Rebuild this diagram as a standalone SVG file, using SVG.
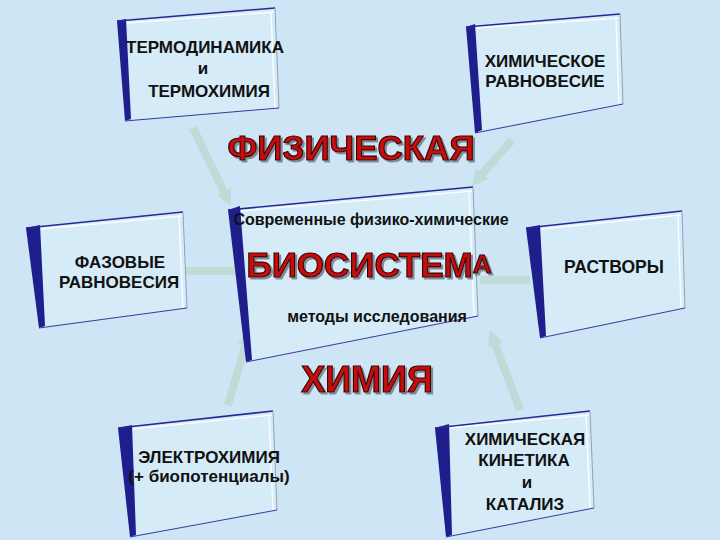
<svg xmlns="http://www.w3.org/2000/svg" width="720" height="540" viewBox="0 0 720 540">
<defs>
<style>
.bg{fill:#cde5f4}
.face{fill:#d5ebf8;stroke:none}
.strip{fill:#1e1e8c}
.top{stroke:#27279a;stroke-width:1.6;fill:none}
.hl{stroke:#ffffff;stroke-width:1.4;fill:none;opacity:0.9}
.side{stroke:#8fa3b8;stroke-width:1;fill:none}
.bot{stroke:#3a3aa0;stroke-width:1;fill:none}
.conn{stroke:#bcd9d0;stroke-width:8;fill:none;opacity:0.8}
.t{font-family:"Liberation Sans",Arial,sans-serif;font-weight:bold;fill:#111;text-anchor:middle}
.big{font-family:"Liberation Sans",Arial,sans-serif;font-weight:bold;fill:#c80f0f;stroke:#3a0000;stroke-width:1.2;text-anchor:middle;filter:url(#sh)}
</style>
<filter id="sh" x="-10%" y="-20%" width="130%" height="150%">
<feDropShadow dx="2" dy="2" stdDeviation="0.6" flood-color="#6b7580" flood-opacity="0.8"/>
</filter>
<marker id="ah" viewBox="0 0 10 10" refX="6" refY="5" markerWidth="2" markerHeight="2" orient="auto">
<path d="M0,0 L10,5 L0,10 z" fill="#bcd9d0"/>
</marker>
</defs>
<rect class="bg" x="0" y="0" width="720" height="540"/>

<g id="connectors">
<line class="conn" x1="193" y1="128" x2="228" y2="200" marker-end="url(#ah)"/>
<line class="conn" x1="512" y1="140" x2="476" y2="181" marker-end="url(#ah)"/>
<line class="conn" x1="185" y1="271" x2="236" y2="271"/>
<line class="conn" x1="530" y1="280" x2="480" y2="280"/>
<line class="conn" x1="228" y1="405" x2="248" y2="336" marker-end="url(#ah)"/>
<line class="conn" x1="520" y1="410" x2="492" y2="336" marker-end="url(#ah)"/>
</g>

<g id="thermo">
<polygon class="face" points="126,19 275,8 279,108 131,119"/>
<polygon class="strip" points="117,21 126,19 131,119 125,121"/>
<polyline class="top" points="117,21 275,8"/>
<polyline class="hl" points="127,23 274,12"/>
<polyline class="side" points="275,8 279,108"/>
<polyline class="hl" points="271,12 275,108"/>
<polyline class="bot" points="125,121 279,108"/>
<text class="t" x="205" y="53" font-size="17">ТЕРМОДИНАМИКА</text>
<text class="t" x="203" y="74" font-size="17">и</text>
<text class="t" x="209" y="97" font-size="17">ТЕРМОХИМИЯ</text>
</g>

<g id="chem-eq">
<polygon class="face" points="475,24 620,14 623,104 482,130"/>
<polygon class="strip" points="466,27 475,24 482,130 475,133"/>
<polyline class="top" points="466,27 620,14"/>
<polyline class="hl" points="476,28 619,18"/>
<polyline class="side" points="620,14 623,104"/>
<polyline class="hl" points="616,18 619,104"/>
<polyline class="bot" points="475,133 623,104"/>
<text class="t" x="545" y="67" font-size="17">ХИМИЧЕСКОЕ</text>
<text class="t" x="545" y="87" font-size="17">РАВНОВЕСИЕ</text>
</g>

<g id="center">
<polygon class="face" points="240,206 473,187 478,316 252,360"/>
<polygon class="strip" points="228,210 240,206 252,360 246,362"/>
<polyline class="top" points="228,210 473,187"/>
<polyline class="hl" points="241,211 472,191"/>
<polyline class="side" points="473,187 478,316"/>
<polyline class="hl" points="469,191 474,316"/>
<polyline class="bot" points="246,362 478,316"/>
<text class="t" x="371" y="225" font-size="16">Современные физико-химические</text>
<text class="big" x="369" y="277" font-size="35">БИОСИСТЕМ<tspan font-size="26" dy="-4">А</tspan></text>
<text class="t" x="377" y="322" font-size="16">методы исследования</text>
</g>

<text class="big" x="351" y="160" font-size="35">ФИЗИЧЕСКАЯ</text>
<text class="big" x="367" y="392" font-size="36">ХИМИЯ</text>

<g id="phase">
<polygon class="face" points="40,225 183,212 187,308 45,326"/>
<polygon class="strip" points="26,228 40,225 45,326 39,328"/>
<polyline class="top" points="26,228 183,212"/>
<polyline class="hl" points="41,229 182,216"/>
<polyline class="side" points="183,212 187,308"/>
<polyline class="hl" points="179,216 183,308"/>
<polyline class="bot" points="39,328 187,308"/>
<text class="t" x="120" y="268" font-size="17">ФАЗОВЫЕ</text>
<text class="t" x="119" y="288" font-size="17">РАВНОВЕСИЯ</text>
</g>

<g id="solutions">
<polygon class="face" points="540,225 682,211 685,308 546,336"/>
<polygon class="strip" points="526,228 540,225 546,336 540,338"/>
<polyline class="top" points="526,228 682,211"/>
<polyline class="hl" points="541,229 681,215"/>
<polyline class="side" points="682,211 685,308"/>
<polyline class="hl" points="678,215 681,308"/>
<polyline class="bot" points="540,338 685,308"/>
<text class="t" x="614" y="273" font-size="17.5">РАСТВОРЫ</text>
</g>

<g id="electro">
<polygon class="face" points="132,425 273,411 277,510 136,535"/>
<polygon class="strip" points="118,428 132,425 136,535 130,537"/>
<polyline class="top" points="118,428 273,411"/>
<polyline class="hl" points="133,429 272,415"/>
<polyline class="side" points="273,411 277,510"/>
<polyline class="hl" points="269,415 273,510"/>
<polyline class="bot" points="130,537 277,510"/>
<text class="t" x="209" y="463" font-size="17">ЭЛЕКТРОХИМИЯ</text>
<text class="t" x="209" y="482" font-size="17">(+ биопотенциалы)</text>
</g>

<g id="kinetics">
<polygon class="face" points="449,424 590,411 594,508 452,535"/>
<polygon class="strip" points="435,428 449,424 452,535 446,537"/>
<polyline class="top" points="435,428 590,411"/>
<polyline class="hl" points="450,428 589,415"/>
<polyline class="side" points="590,411 594,508"/>
<polyline class="hl" points="586,415 590,508"/>
<polyline class="bot" points="446,537 594,508"/>
<text class="t" x="525" y="445" font-size="17">ХИМИЧЕСКАЯ</text>
<text class="t" x="524" y="466" font-size="17">КИНЕТИКА</text>
<text class="t" x="527" y="488" font-size="17">и</text>
<text class="t" x="525" y="510" font-size="17">КАТАЛИЗ</text>
</g>
</svg>
